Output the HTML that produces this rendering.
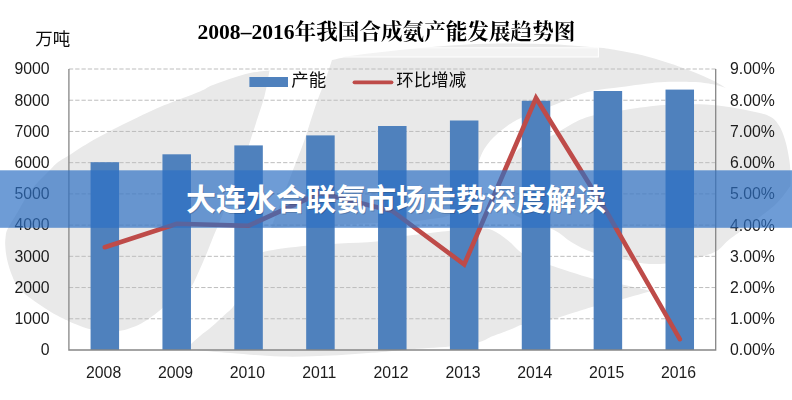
<!DOCTYPE html>
<html><head><meta charset="utf-8"><title>chart</title>
<style>html,body{margin:0;padding:0;background:#fff;}body{width:792px;height:400px;overflow:hidden;}svg{display:block;}text{font-family:"Liberation Sans","Noto Sans CJK SC",sans-serif;}</style>
</head><body>
<svg width="792" height="400" viewBox="0 0 792 400">
<defs><filter id="soft" x="-2%" y="-2%" width="104%" height="104%"><feGaussianBlur stdDeviation="0.55"/></filter></defs>
<rect width="792" height="400" fill="#fff"/>
<g filter="url(#soft)">
<rect x="-20" y="-20" width="832" height="440" fill="#fff"/>
<g id="wm" fill="#e9e9e9"><path d="M269.5 70.5C266.2 70.9 256.1 71.8 250.0 73.0C243.9 74.2 239.2 75.9 232.8 78.0C226.4 80.1 217.0 83.3 211.5 85.5C206.0 87.7 207.9 88.1 200.0 91.4C192.1 94.7 174.6 100.9 164.0 105.3C153.4 109.7 145.2 113.7 136.4 117.9C127.6 122.1 119.0 126.3 111.0 130.5C103.0 134.7 95.6 138.8 88.4 143.0C81.2 147.2 73.2 152.8 68.0 156.0C62.9 159.2 60.5 160.2 57.5 162.5C54.5 164.8 53.3 166.7 50.0 170.0C46.7 173.3 41.2 178.3 37.5 182.5C33.8 186.7 30.6 190.4 27.5 195.0C24.4 199.6 21.6 205.3 18.8 210.0C16.1 214.7 13.0 219.5 11.0 223.0C9.0 226.5 7.6 228.5 6.7 231.0C5.8 233.5 5.8 235.8 5.5 238.0C5.2 240.2 5.1 241.9 5.2 244.5C5.3 247.1 5.6 250.5 6.0 253.5C6.4 256.5 7.0 259.5 7.8 262.5C8.6 265.5 9.4 268.5 10.5 271.5C11.6 274.5 12.9 277.8 14.2 280.5C15.4 283.2 16.1 285.2 18.0 287.5C19.9 289.8 22.0 291.6 25.3 294.3C28.6 297.0 33.7 300.7 37.9 303.6C42.1 306.5 46.3 309.3 50.5 311.8C54.7 314.3 60.1 317.0 63.1 318.6C66.2 320.2 65.8 319.9 68.8 321.2C71.8 322.5 77.1 324.8 80.8 326.2C84.5 327.6 86.9 328.5 90.9 329.3C94.9 330.1 100.3 330.9 105.0 331.2C109.7 331.5 114.8 331.5 118.9 331.0C123.0 330.5 126.1 329.6 129.8 328.3C133.5 327.1 137.4 325.6 141.2 323.5C145.0 321.4 149.1 318.5 152.6 316.0C156.1 313.5 158.9 311.2 162.0 308.5C165.1 305.8 167.8 302.7 171.0 300.0C174.2 297.3 177.8 294.5 181.0 292.5C184.2 290.5 187.8 289.8 190.0 288.0C192.2 286.2 192.4 285.0 194.0 282.0C195.6 279.0 197.5 274.5 199.5 270.0C201.5 265.5 203.9 260.0 206.0 255.0C208.1 250.0 210.2 244.5 212.0 240.0C213.8 235.5 214.2 234.7 217.0 228.0C219.8 221.3 225.0 209.7 229.0 200.0C233.0 190.3 237.4 180.0 241.0 170.0C244.6 160.0 248.0 147.8 250.5 140.0C253.0 132.2 253.7 130.3 256.0 123.0C258.3 115.7 262.2 104.8 264.5 96.0C266.8 87.2 268.7 74.8 269.5 70.5Z"/>
<path d="M332.0 60.0C331.0 63.0 328.8 70.3 326.0 78.0C323.2 85.7 319.1 95.7 315.5 106.0C311.9 116.3 308.2 129.3 304.5 140.0C300.8 150.7 296.8 160.2 293.0 170.0C289.2 179.8 285.7 189.3 282.0 199.0C278.3 208.7 272.8 223.2 271.0 228.0C279.2 227.6 305.8 226.2 320.0 225.5C334.2 224.8 341.7 224.6 356.0 224.0C370.3 223.4 394.0 222.8 406.0 222.0C418.0 221.2 420.7 220.7 428.0 219.5C435.3 218.3 444.0 218.1 450.0 215.0C456.0 211.9 460.2 206.2 464.0 201.0C467.8 195.8 470.3 191.2 473.0 184.0C475.7 176.8 477.3 164.7 480.2 157.5C483.1 150.3 486.1 145.9 490.3 140.8C494.5 135.8 500.2 131.1 505.5 127.2C510.8 123.3 514.5 120.9 521.9 117.5C529.2 114.1 541.0 110.2 549.6 106.8C558.2 103.4 566.4 99.6 573.6 96.9C580.8 94.2 585.0 92.5 593.0 90.8C601.0 89.1 610.4 88.4 621.6 87.0C632.8 85.6 648.1 83.1 660.0 82.3C671.9 81.5 684.2 81.7 693.0 82.0C701.8 82.3 707.5 83.3 713.0 84.3C718.5 85.3 723.8 87.4 726.0 88.0C723.8 86.8 718.5 83.2 713.0 80.5C707.5 77.8 700.5 74.7 693.0 71.7C685.5 68.8 676.2 65.5 667.8 62.8C659.4 60.1 651.0 57.4 642.5 55.3C634.0 53.2 624.1 51.5 617.0 50.2C609.9 49.0 610.9 48.8 600.0 47.8C589.1 46.8 568.0 44.9 551.5 44.2C535.0 43.5 517.8 43.3 501.0 43.5C484.2 43.7 467.3 44.3 450.5 45.4C433.7 46.5 416.5 48.3 400.0 50.0C383.5 51.7 361.3 54.4 351.5 55.7C341.7 57.0 344.2 57.3 341.0 58.0C337.8 58.7 333.5 59.7 332.0 60.0Z"/>
<path d="M503.0 170.0C504.5 168.1 508.7 162.2 511.8 158.3C515.0 154.5 515.6 150.5 521.9 146.9C528.2 143.3 541.0 140.8 549.6 136.8C558.2 132.8 566.4 126.5 573.6 122.9C580.8 119.3 585.0 117.5 593.0 115.4C601.0 113.3 610.4 112.2 621.6 110.5C632.8 108.8 648.1 106.3 660.0 105.3C671.9 104.2 683.3 104.2 693.0 104.2C702.7 104.2 709.6 104.6 718.0 105.5C726.4 106.4 735.0 107.8 743.5 109.5C752.0 111.2 762.9 113.3 768.8 115.9C774.7 118.5 776.2 121.2 778.9 125.3C781.6 129.4 783.5 135.0 785.2 140.4C786.9 145.8 788.1 152.7 789.0 158.0C789.9 163.3 790.2 167.3 790.5 172.0C790.8 176.7 790.5 183.7 790.5 186.0C787.9 189.2 782.6 198.0 775.0 205.0C767.4 212.0 752.8 222.1 745.0 228.0C737.2 233.9 733.3 236.3 728.4 240.2C723.5 244.1 721.4 248.5 715.7 251.6C710.0 254.7 702.3 256.5 694.0 258.5C685.7 260.5 674.3 262.7 666.0 263.5C657.7 264.3 651.3 264.2 644.0 263.5C636.7 262.8 630.5 260.8 622.0 259.0C613.5 257.2 601.3 255.3 593.0 252.6C584.7 249.8 578.5 246.3 572.0 242.5C565.5 238.7 561.0 233.4 554.0 230.0C547.0 226.6 537.0 224.8 530.0 222.0C523.0 219.2 516.5 216.7 512.0 213.0C507.5 209.3 505.0 204.7 503.0 200.0C501.0 195.3 500.0 190.0 500.0 185.0C500.0 180.0 502.5 172.5 503.0 170.0Z"/>
<path d="M185.0 349.5C185.8 348.8 187.5 347.2 190.0 345.0C192.5 342.8 196.2 339.2 200.0 336.0C203.8 332.8 208.3 329.6 212.5 326.0C216.7 322.4 221.6 317.7 225.0 314.5C228.4 311.3 230.0 310.9 233.0 307.0C236.0 303.1 240.0 296.8 243.0 291.0C246.0 285.2 248.7 277.5 251.0 272.0C253.3 266.5 254.7 261.4 257.0 258.0C259.3 254.6 256.8 253.5 265.0 251.5C273.2 249.5 293.5 247.1 306.0 245.8C318.5 244.5 328.2 244.2 340.0 243.5C351.8 242.8 365.4 242.8 376.6 241.5C387.8 240.2 399.8 237.0 407.0 235.8C414.2 234.6 412.8 235.0 420.0 234.2C427.2 233.4 440.3 231.8 450.0 230.8C459.7 229.9 471.0 228.6 478.0 228.5C485.0 228.4 487.0 228.0 492.0 230.0C497.0 232.0 503.1 236.7 508.0 240.5C512.9 244.3 517.1 249.8 521.6 253.0C526.1 256.2 530.4 258.0 535.0 260.0C539.6 262.0 540.0 261.9 549.5 265.0C559.0 268.1 579.9 275.2 592.0 278.5C604.1 281.8 612.2 282.4 622.0 284.5C631.8 286.6 646.2 289.9 651.0 291.0C646.2 292.4 631.8 296.6 622.0 299.3C612.2 302.0 601.5 304.3 592.0 307.0C582.5 309.7 572.2 313.2 565.0 315.5C557.8 317.8 554.0 319.2 549.0 320.5C544.0 321.8 539.7 322.2 535.0 323.0C530.3 323.8 524.7 324.1 521.0 325.0C517.3 325.9 517.7 326.7 513.0 328.5C508.3 330.3 498.8 333.7 493.0 336.0C487.2 338.3 485.2 340.8 478.0 342.5C470.8 344.2 461.8 345.3 450.0 346.5C438.2 347.7 418.3 348.6 407.0 349.5C395.7 350.4 394.6 351.0 382.0 352.0C369.4 353.0 348.3 354.8 331.5 355.6C314.7 356.4 297.8 357.0 281.0 356.6C264.2 356.2 244.0 354.0 230.5 353.0C217.0 352.0 207.4 351.2 200.0 350.5C192.6 349.8 188.3 349.2 186.0 349.0Z"/></g>
<rect x="150" y="47.8" width="448.4" height="9.2" fill="#fff" fill-opacity="0.45" stroke="#fff" stroke-width="1"/>
<g stroke="#bdbdbd" stroke-width="1" stroke-dasharray="4.3 2.0" fill="none">
<line x1="68.9" y1="318.78" x2="715.7" y2="318.78"/>
<line x1="68.9" y1="287.56" x2="715.7" y2="287.56"/>
<line x1="68.9" y1="256.33" x2="715.7" y2="256.33"/>
<line x1="68.9" y1="225.11" x2="715.7" y2="225.11"/>
<line x1="68.9" y1="193.89" x2="715.7" y2="193.89"/>
<line x1="68.9" y1="162.67" x2="715.7" y2="162.67"/>
<line x1="68.9" y1="131.44" x2="715.7" y2="131.44"/>
<line x1="68.9" y1="100.22" x2="715.7" y2="100.22"/>
<line x1="68.9" y1="69.00" x2="715.7" y2="69.00"/>
</g>
<g fill="#4f81bd">
<rect x="90.58" y="162.20" width="28.5" height="187.80"/>
<rect x="162.45" y="154.30" width="28.5" height="195.70"/>
<rect x="234.32" y="145.40" width="28.5" height="204.60"/>
<rect x="306.18" y="135.40" width="28.5" height="214.60"/>
<rect x="378.05" y="126.00" width="28.5" height="224.00"/>
<rect x="449.92" y="120.50" width="28.5" height="229.50"/>
<rect x="521.78" y="100.80" width="28.5" height="249.20"/>
<rect x="593.65" y="91.00" width="28.5" height="259.00"/>
<rect x="665.52" y="89.60" width="28.5" height="260.40"/>
</g>
<g stroke="#868686" stroke-width="1.3" fill="none"><path d="M68.9 69.0 V350.0 H715.7 V69.0"/></g>
<polyline points="104.8,247.2 176.7,223.7 248.6,225.7 320.4,193.0 392.3,211.0 464.2,264.5 536.0,98.0 607.9,214.0 679.8,339.2" fill="none" stroke="#be4b48" stroke-width="4.6" stroke-linejoin="miter" stroke-linecap="round"/>
<rect x="249.4" y="77" width="38.6" height="10" fill="#4f81bd"/>
<line x1="354.5" y1="82.3" x2="391.5" y2="82.3" stroke="#be4b48" stroke-width="3.8" stroke-linecap="round"/>
<g font-size="15.8" fill="#1c1c1c">
<text x="49.6" y="355.30" text-anchor="end">0</text>
<text x="730.0" y="355.40">0.00%</text>
<text x="49.6" y="324.08" text-anchor="end">1000</text>
<text x="730.0" y="324.18">1.00%</text>
<text x="49.6" y="292.86" text-anchor="end">2000</text>
<text x="730.0" y="292.96">2.00%</text>
<text x="49.6" y="261.63" text-anchor="end">3000</text>
<text x="730.0" y="261.73">3.00%</text>
<text x="49.6" y="230.41" text-anchor="end">4000</text>
<text x="730.0" y="230.51">4.00%</text>
<text x="49.6" y="199.19" text-anchor="end">5000</text>
<text x="730.0" y="199.29">5.00%</text>
<text x="49.6" y="167.97" text-anchor="end">6000</text>
<text x="730.0" y="168.07">6.00%</text>
<text x="49.6" y="136.74" text-anchor="end">7000</text>
<text x="730.0" y="136.84">7.00%</text>
<text x="49.6" y="105.52" text-anchor="end">8000</text>
<text x="730.0" y="105.62">8.00%</text>
<text x="49.6" y="74.30" text-anchor="end">9000</text>
<text x="730.0" y="74.40">9.00%</text>
<text x="103.63" y="377.8" text-anchor="middle">2008</text>
<text x="175.50" y="377.8" text-anchor="middle">2009</text>
<text x="247.37" y="377.8" text-anchor="middle">2010</text>
<text x="319.23" y="377.8" text-anchor="middle">2011</text>
<text x="391.10" y="377.8" text-anchor="middle">2012</text>
<text x="462.97" y="377.8" text-anchor="middle">2013</text>
<text x="534.83" y="377.8" text-anchor="middle">2014</text>
<text x="606.70" y="377.8" text-anchor="middle">2015</text>
<text x="678.57" y="377.8" text-anchor="middle">2016</text>
</g>
<text x="35.2" y="44.6" font-size="17.5" fill="#0a0a0a">万吨</text>
<text x="291.3" y="85.7" font-size="17.5" fill="#0a0a0a">产能</text>
<text x="396.3" y="85.7" font-size="17.5" fill="#0a0a0a">环比增减</text>
<text x="386.4" y="39.3" font-size="21.6" font-weight="bold" fill="#000" text-anchor="middle" style="font-family:'Liberation Serif','Noto Serif CJK SC',serif;">2008–2016年我国合成氨产能发展趋势图</text>
</g>
<rect x="0" y="170.3" width="792" height="57.5" fill="rgb(45,112,196)" fill-opacity="0.69"/>
<text x="397" y="211.3" font-size="30" font-weight="bold" fill="#000" fill-opacity="0.18" text-anchor="middle">大连水合联氨市场走势深度解读</text>
<text x="396" y="210.3" font-size="30" font-weight="bold" fill="#fff" text-anchor="middle">大连水合联氨市场走势深度解读</text>
</svg></body></html>
